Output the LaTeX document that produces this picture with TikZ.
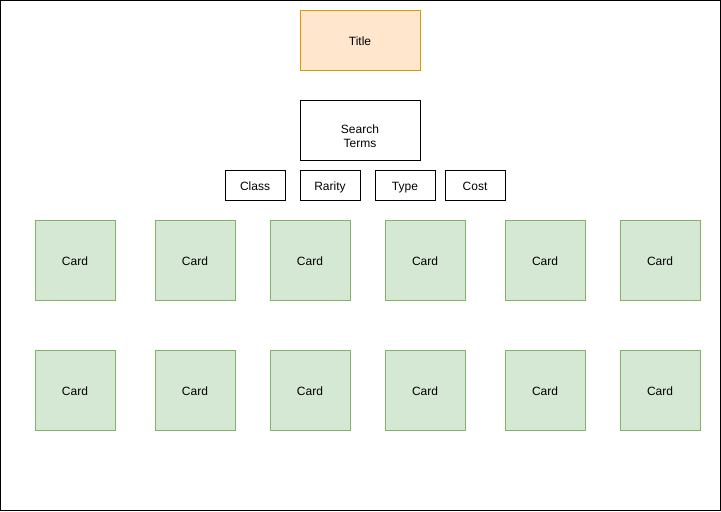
\documentclass[tikz,border=0pt]{standalone}
\usepackage{fontspec}
\setmainfont{Liberation Sans}
\usepackage{tikz}
\usepackage{xcolor}
\usetikzlibrary{positioning}
\definecolor{cTitleFill}{HTML}{FFE6CC}
\definecolor{cTitleLine}{HTML}{D79B00}
\definecolor{cCardFill}{HTML}{D5E8D4}
\definecolor{cCardLine}{HTML}{82B366}
\tikzset{
	titlebox/.style ={rectangle, minimum width=90pt, minimum height=45pt, text height=8pt, text depth=0pt, align=center, draw=cTitleLine, fill=cTitleFill},
	termbox/.style  ={rectangle, minimum width=90pt, minimum height=45pt, align=center, draw=black, fill=white},
	filterbox/.style={rectangle, minimum width=45pt, minimum height=22.5pt, text height=8pt, text depth=0pt, align=center, draw=black, fill=white},
	card/.style     ={rectangle, minimum width=60pt, minimum height=60pt, text height=8pt, text depth=0pt, align=center, draw=cCardLine, fill=cCardFill},
}
\begin{document}
\begin{tikzpicture}[x=0.75pt, y=-0.75pt, font=\fontsize{9}{10.5}\selectfont, inner sep=0pt]
	\useasboundingbox (0,0) rectangle (721,511);
	\draw[black] (0.5,0.5) rectangle (720.5,510.5);
	\node[titlebox] (title) at (360,40) {Title};
	\node[termbox] (search) at (360,130.5) {\strut\\\strut Search\\\strut Terms};
	\node[filterbox] (class) at (255,185) {Class};
	\node[filterbox] (rarity) at (330,185) {Rarity};
	\node[filterbox] (type) at (405,185) {Type};
	\node[filterbox] (cost) at (475,185) {Cost};
	% two rows of cards
	\foreach \cx [count=\i] in {75,195,310,425,545,660}{
		\node[card] (cardA\i) at (\cx,260) {Card};
		\node[card] (cardB\i) at (\cx,390) {Card};
	}
\end{tikzpicture}
\end{document}
